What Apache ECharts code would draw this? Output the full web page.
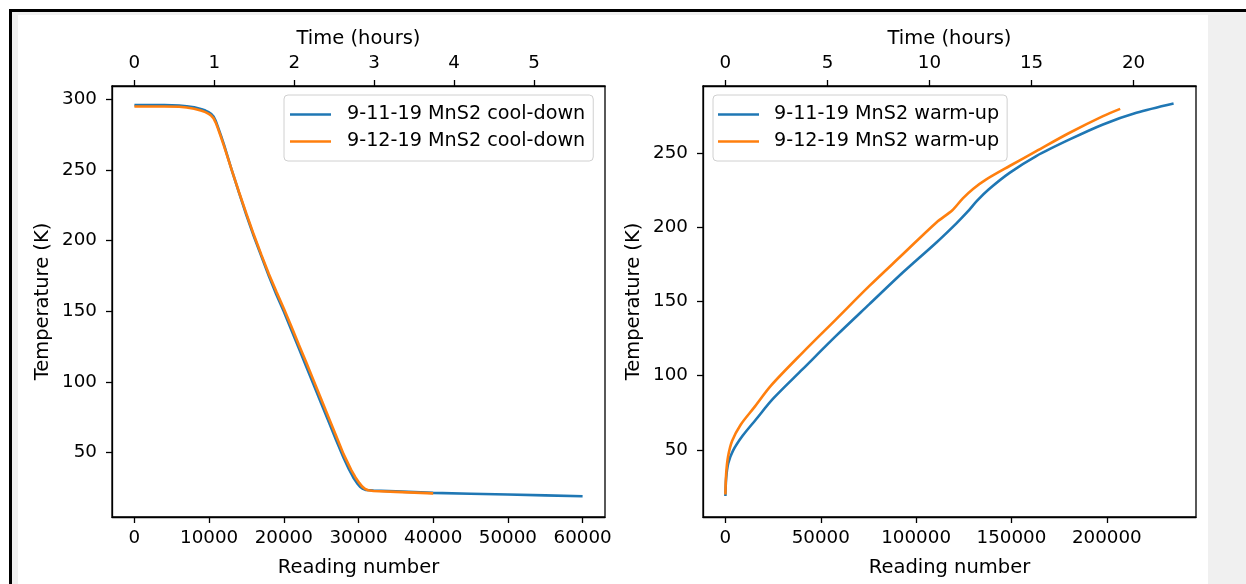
<!DOCTYPE html>
<html>
<head>
<meta charset="utf-8">
<script src="https://cdn.jsdelivr.net/npm/echarts@6/dist/echarts.min.js"></script>
<style>
  html, body { margin: 0; padding: 0; background: #ffffff; width: 1246px; height: 584px; overflow: hidden; }
  #frame { position: absolute; left: 9px; top: 9px; width: 1237px; height: 575px; border-top: 3px solid #000; border-left: 3px solid #000; background: #f0f0f0; box-sizing: border-box; }
  #paper { position: absolute; left: 18px; top: 15px; width: 1190px; height: 569px; background: #ffffff; }
  #chart { position: absolute; left: 0; top: 0; width: 1246px; height: 584px; }
</style>
</head>
<body>
<div id="frame"></div>
<div id="paper"></div>
<div id="chart"></div>
<script>
// ---------------- data ----------------
const coolNames = ['9-11-19 MnS2 cool-down', '9-12-19 MnS2 cool-down'];
const warmNames = ['9-11-19 MnS2 warm-up', '9-12-19 MnS2 warm-up'];

const cool911X = [0, 2000, 4000, 6000, 7000, 8000, 9000, 9500, 10000, 10300, 10600, 10900, 11200, 11600, 12000, 13000, 14000, 15000, 16000, 17000, 18000, 19000, 20000, 21000, 22000, 23000, 24000, 25000, 26000, 27000, 28000, 28700, 29300, 29800, 30200, 30600, 31000, 32000, 35000, 40000, 45000, 50000, 55000, 60000];
const cool911Y = [296, 296, 296, 295.6, 295.2, 294.4, 293.1, 292.1, 290.8, 289.6, 287.8, 284.6, 280.2, 274.2, 267.8, 250.5, 234, 218, 203, 189, 175, 162, 150, 137, 124, 111, 98, 85, 72, 59, 46.5, 38.5, 32.5, 28.5, 26, 24.4, 23.6, 23.2, 22.6, 21.6, 21, 20.4, 19.8, 19.2];

const cool912X = [0, 2000, 4000, 6000, 7000, 8000, 9000, 9500, 10000, 10300, 10600, 10900, 11200, 11600, 12000, 13000, 14000, 15000, 16000, 17000, 18000, 19000, 20000, 21000, 22000, 23000, 24000, 25000, 26000, 27000, 28000, 29000, 29600, 30100, 30500, 30900, 31300, 32000, 35000, 40000];
const cool912Y = [295, 295, 295, 294.8, 294.3, 293.4, 292, 291, 289.6, 288.4, 286.6, 283.4, 279.2, 273.2, 267, 250.5, 234.5, 219, 204, 190, 176.5, 164, 152, 139.5, 126.5, 114, 101, 88, 75, 62, 49, 38, 32.5, 28.6, 26, 24.3, 23.4, 22.9, 22.3, 21.2];

const warm911X = [0, 400, 1500, 4000, 9000, 16000, 25000, 40500, 58000, 75500, 93000, 110500, 121000, 127000, 132000, 138000, 149000, 163000, 180500, 198000, 215500, 235000];
const warm911Y = [19, 31, 41, 49.5, 59.5, 70.5, 84.5, 104.4, 126.8, 148.2, 169.5, 189.6, 202.5, 210.5, 218, 225.5, 236.7, 248, 259.2, 269.3, 277.1, 283.4];

const warm912X = [0, 400, 1400, 3500, 8000, 15000, 24000, 40500, 58000, 75500, 93000, 110500, 119000, 124500, 130000, 136800, 149000, 163000, 180500, 198000, 207000];
const warm912Y = [20, 34, 45.5, 56, 67, 78.5, 93.5, 115.6, 138, 160.5, 181.8, 203.1, 211.5, 219.5, 226, 232.3, 241.3, 251.3, 263.7, 274.9, 279.8];

// tick labels
const coolReadingTicks = [0, 10000, 20000, 30000, 40000, 50000, 60000];
const coolHourTicks = [0, 1, 2, 3, 4, 5];
const coolTempTicks = [50, 100, 150, 200, 250, 300];
const warmReadingTicks = [0, 50000, 100000, 150000, 200000];
const warmHourTicks = [0, 5, 10, 15, 20];
const warmTempTicks = [50, 100, 150, 200, 250];

// readings per hour (ratio between the two x scales)
const readingsPerHour = 10700;

// axis limits
const coolXLim = [-3000, 63000];
const coolYLim = [4.5, 309.5];
const warmXLim = [-11750, 246750];
const warmYLim = [4.8, 295.2];

// ---------------- chart ----------------
const FONT = 'DejaVu Sans';
const FS_TICK = 18.3;
const FS_NAME = 19.5;
const FS_LEG = 19.2;
const BLUE = '#1f77b4';
const ORANGE = '#ff7f0e';

function zip(xs, ys) { return xs.map((x, i) => [x, ys[i]]); }

function axisCommon(ticks, margin) {
  return {
    axisLine: { show: true, onZero: false, lineStyle: { color: '#000', width: 1.3 } },
    axisTick: { show: true, length: 6, lineStyle: { color: '#000', width: 1.3 }, customValues: ticks },
    axisLabel: { fontFamily: FONT, fontSize: FS_TICK, color: '#000', margin, customValues: ticks, formatter: v => String(v) },
    splitLine: { show: false },
    nameTextStyle: { fontFamily: FONT, fontSize: FS_NAME, color: '#000' },
    nameLocation: 'middle'
  };
}
function xAxisBottom(gridIndex, lim, ticks) {
  return Object.assign(axisCommon(ticks, 12), {
    type: 'value', gridIndex, position: 'bottom', min: lim[0], max: lim[1],
    name: 'Reading number', nameGap: 41
  });
}
function xAxisTop(gridIndex, lim, ticks) {
  return Object.assign(axisCommon(ticks, 14), {
    type: 'value', gridIndex, position: 'top', min: lim[0] / readingsPerHour, max: lim[1] / readingsPerHour,
    name: 'Time (hours)', nameGap: 35
  });
}
function yAxis(gridIndex, lim, ticks) {
  return Object.assign(axisCommon(ticks, 15), {
    type: 'value', gridIndex, position: 'left', min: lim[0], max: lim[1],
    name: 'Temperature (K)', nameGap: 59
  });
}
function lineSeries(name, data, color, xi, yi, smooth) {
  return {
    type: 'line', name, data, xAxisIndex: xi, yAxisIndex: yi,
    symbol: 'none', smooth,
    lineStyle: { color, width: 2.6 }, itemStyle: { color },
    emphasis: { disabled: true }, animation: false
  };
}
function legend(names, left, padding, textPad) {
  return {
    data: names, orient: 'vertical', left, top: 95,
    padding, itemGap: 8, itemWidth: 41, itemHeight: 2.6, icon: 'rect',
    borderColor: '#d0d0d0', borderWidth: 1, borderRadius: 4,
    backgroundColor: 'rgba(255,255,255,0.8)',
    textStyle: { fontFamily: FONT, fontSize: FS_LEG, color: '#000', lineHeight: 18, padding: [0, 0, 0, textPad] },
    selectedMode: false
  };
}

const chart = echarts.init(document.getElementById('chart'), null, { renderer: 'canvas' });
chart.setOption({
  animation: false,
  backgroundColor: 'transparent',
  grid: [
    { left: 112, top: 86, width: 493, height: 431, show: true, borderColor: '#000', borderWidth: 1.3, backgroundColor: '#fff' },
    { left: 703, top: 86, width: 493, height: 431, show: true, borderColor: '#000', borderWidth: 1.3, backgroundColor: '#fff' }
  ],
  xAxis: [
    xAxisBottom(0, coolXLim, coolReadingTicks),
    xAxisTop(0, coolXLim, coolHourTicks),
    xAxisBottom(1, warmXLim, warmReadingTicks),
    xAxisTop(1, warmXLim, warmHourTicks)
  ],
  yAxis: [
    yAxis(0, coolYLim, coolTempTicks),
    yAxis(1, warmYLim, warmTempTicks)
  ],
  legend: [
    legend(coolNames, 284, [10, 8, 10, 6], 11),
    legend(warmNames, 713, [10, 8, 10, 5], 10)
  ],
  series: [
    lineSeries(coolNames[0], zip(cool911X, cool911Y), BLUE, 0, 0, false),
    lineSeries(coolNames[1], zip(cool912X, cool912Y), ORANGE, 0, 0, false),
    lineSeries(warmNames[0], zip(warm911X, warm911Y), BLUE, 2, 1, 0.3),
    lineSeries(warmNames[1], zip(warm912X, warm912Y), ORANGE, 2, 1, 0.3)
  ]
});
</script>
</body>
</html>
